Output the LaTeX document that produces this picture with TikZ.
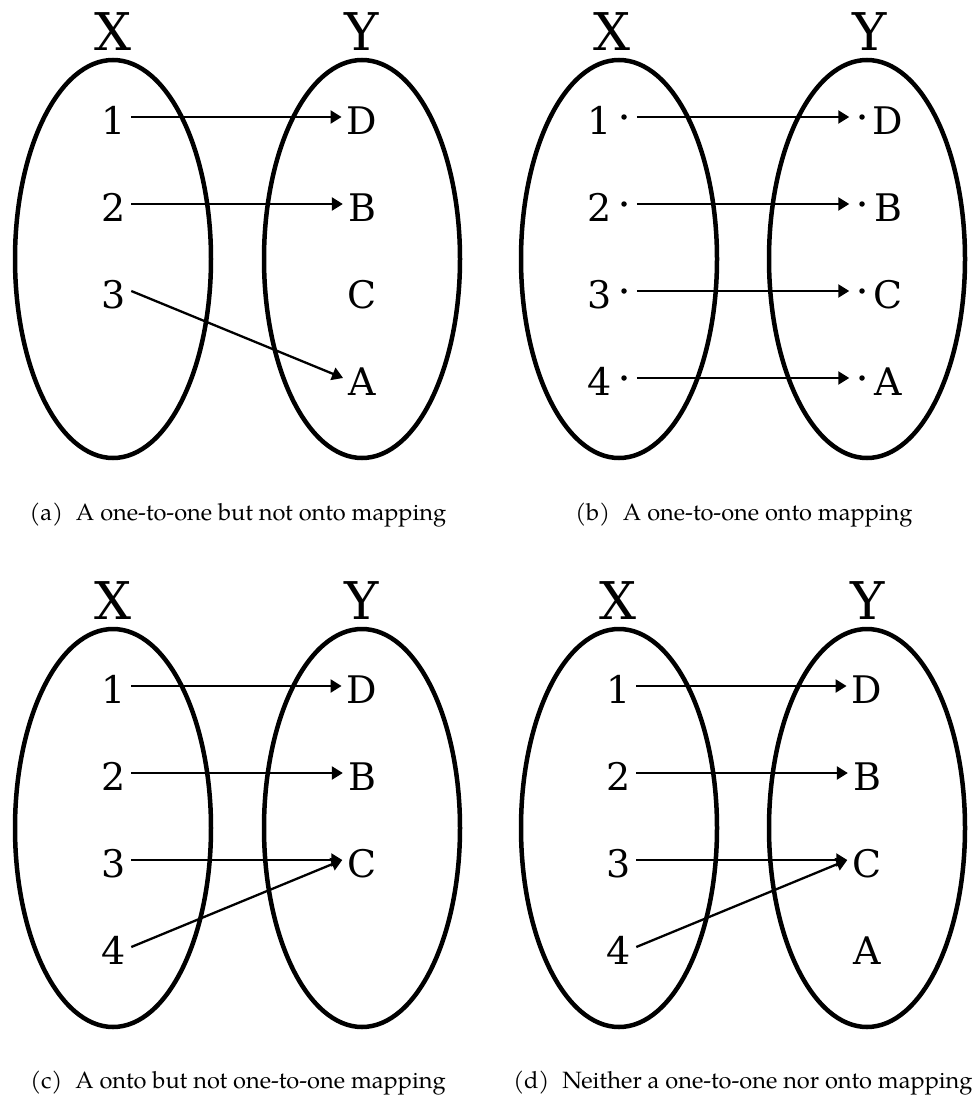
\documentclass[tikz,border=0pt]{standalone}
\usepackage{fontspec}
\usepackage{tikz}
\usetikzlibrary{arrows.meta,shapes.geometric,positioning}
\newfontfamily\lblfont{DejaVu Serif}
\newfontfamily\capfont{TeX Gyre Pagella}

\tikzset{
    setshape/.style={draw, ellipse, line width=4.5pt, minimum width=196pt, minimum height=398pt, inner sep=0pt},
    setname/.style={font=\lblfont\fontsize{52}{53}\selectfont, inner sep=0pt},
    elem/.style={font=\lblfont\fontsize{38}{40}\selectfont, inner sep=5pt, text height=34pt, text depth=0pt},
    dotpt/.style={circle, fill, inner sep=0pt, minimum size=5.5pt, outer sep=10pt},
    maps/.style={-{Triangle[length=11pt,width=13pt]}, line width=2.3pt},
    subcap/.style={font=\capfont\fontsize{23.6}{25}\selectfont, anchor=base, inner sep=0pt}
}

\begin{document}
\begin{tikzpicture}[x=1pt, y=-1pt]
\useasboundingbox (0,0) rectangle (976,1100);

% (a)
\node[setshape] (aXs) at (113,259) {};
\node[setshape] (aYs) at (362,259) {};
\node[setname] (aX) at (113,32) {X};
\node[setname] (aY) at (362,32) {Y};
\node[elem] (a1) at (114,117) {1};
\node[elem] (a2) at (114,204) {2};
\node[elem] (a3) at (114,291) {3};
\node[elem] (aD) at (362,117) {D};
\node[elem] (aB) at (362,204) {B};
\node[elem] (aC) at (362,291) {C};
\node[elem] (aA) at (362,378) {A};
\draw[maps] (a1.east) -- (aD.west);
\draw[maps] (a2.east) -- (aB.west);
\draw[maps] (a3.east) -- (aA.west);
\node[subcap] (acap) at (238,520) {(a)\hspace{0.55em}A one-to-one but not onto mapping};

% (b)
\node[setshape] (bXs) at (619,259) {};
\node[setshape] (bYs) at (867,259) {};
\node[setname] (bX) at (612,32) {X};
\node[setname] (bY) at (870,32) {Y};
\foreach \i/\u/\v [count=\k from 0] in {1/1/D, 2/2/B, 3/3/C, 4/4/A} {
    \node[elem] (b\u) at (600,117+87*\k) {\u};
    \node[dotpt] (b\u p) at (624,117+87*\k) {};
    \node[dotpt] (b\v p) at (862,117+87*\k) {};
    \node[elem] (b\v) at (888,117+87*\k) {\v};
    \draw[maps] (b\u p) -- (b\v p);
}
\node[subcap] (bcap) at (744,520) {(b)\hspace{0.55em}A one-to-one onto mapping};

% (c)
\begin{scope}[shift={(0,569)}]
\node[setshape] (cXs) at (113,259) {};
\node[setshape] (cYs) at (362,259) {};
\node[setname] (cX) at (113,32) {X};
\node[setname] (cY) at (362,32) {Y};
\node[elem] (c1) at (114,117) {1};
\node[elem] (c2) at (114,204) {2};
\node[elem] (c3) at (114,291) {3};
\node[elem] (c4) at (114,378) {4};
\node[elem] (cD) at (362,117) {D};
\node[elem] (cB) at (362,204) {B};
\node[elem] (cC) at (362,291) {C};
\draw[maps] (c1.east) -- (cD.west);
\draw[maps] (c2.east) -- (cB.west);
\draw[maps] (c3.east) -- (cC.west);
\draw[maps] (c4.east) -- (cC.west);
\node[subcap] (ccap) at (238,519) {(c)\hspace{0.55em}A onto but not one-to-one mapping};
\end{scope}

% (d)
\begin{scope}[shift={(505,569)}]
\node[setshape] (dXs) at (114,259) {};
\node[setshape] (dYs) at (362,259) {};
\node[setname] (dX) at (113,32) {X};
\node[setname] (dY) at (363,32) {Y};
\node[elem] (d1) at (114,117) {1};
\node[elem] (d2) at (114,204) {2};
\node[elem] (d3) at (114,291) {3};
\node[elem] (d4) at (114,378) {4};
\node[elem] (dD) at (362,117) {D};
\node[elem] (dB) at (362,204) {B};
\node[elem] (dC) at (362,291) {C};
\node[elem] (dA) at (362,378) {A};
\draw[maps] (d1.east) -- (dD.west);
\draw[maps] (d2.east) -- (dB.west);
\draw[maps] (d3.east) -- (dC.west);
\draw[maps] (d4.east) -- (dC.west);
\node[subcap] (dcap) at (238,519) {(d)\hspace{0.55em}Neither a one-to-one nor onto mapping};
\end{scope}
\end{tikzpicture}
\end{document}
